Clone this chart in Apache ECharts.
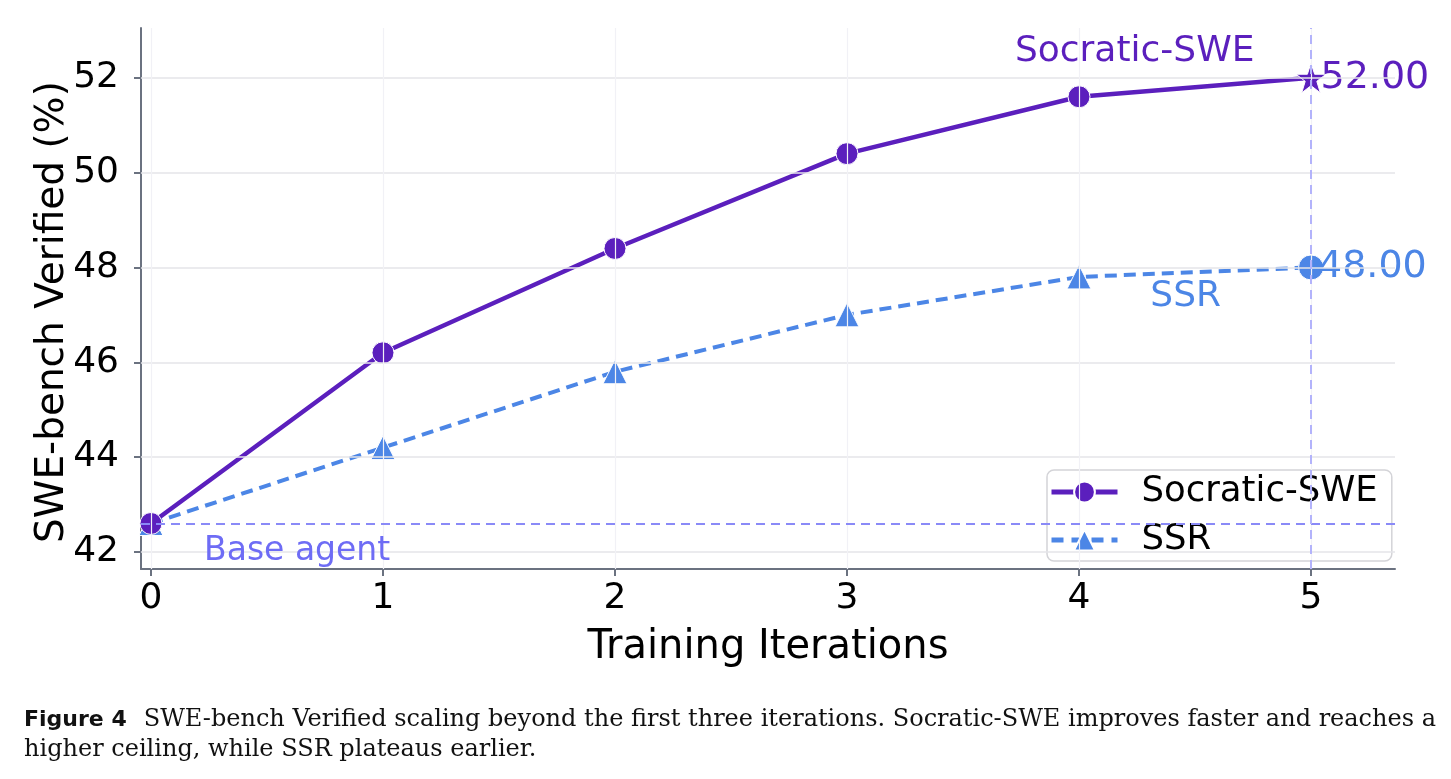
<!DOCTYPE html>
<html>
<head>
<meta charset="utf-8">
<script src="https://cdn.jsdelivr.net/npm/echarts@6/dist/echarts.min.js"></script>
<style>
html, body { margin: 0; padding: 0; background: #fff; }
#main { width: 1451px; height: 779px; }
</style>
</head>
<body>
<div id="main"></div>
<script>
// data
var iterations = [0, 1, 2, 3, 4, 5];
var socraticSWE = [42.6, 46.2, 48.4, 50.4, 51.6, 52.0];
var ssr = [42.6, 44.2, 45.8, 47.0, 47.8, 48.0];
var baseAgent = 42.6;
var xTicks = [0, 1, 2, 3, 4, 5];
var yTicks = [42, 44, 46, 48, 50, 52];

var cSoc = '#5b1fbd';
var cSsr = '#4c86e6';
var cBase = '#8a8af7';
var font = 'DejaVu Sans';
var starPath = 'path://M50,0 L61.8,35.1 L98.9,35.1 L68.9,56.8 L80.3,91.9 L50,70.2 L19.7,91.9 L31.1,56.8 L1.1,35.1 L38.2,35.1 Z';

function pairs(xs, ys) {
    return xs.map(function (x, i) { return [x, ys[i]]; });
}

function endLabel(color) {
    return {
        show: true, position: 'right', distance: -6,
        formatter: function (p) { return p.value[1].toFixed(2); },
        color: color, fontSize: 38, fontFamily: font
    };
}

var socData = pairs(iterations, socraticSWE);
var ssrData = pairs(iterations, ssr);
var last = iterations.length - 1;

// last point: star for Socratic-SWE, circle for SSR, with value label
socData[last] = {
    value: socData[last],
    symbol: starPath,
    symbolSize: 30,
    z2: 10,
    itemStyle: { color: cSoc, borderColor: '#fff', borderWidth: 1 },
    label: endLabel(cSoc)
};
ssrData[last] = {
    value: ssrData[last],
    symbol: 'circle',
    symbolSize: 25,
    label: endLabel(cSsr)
};

var gridLines = [];
yTicks.forEach(function (v) {
    gridLines.push({ yAxis: v, lineStyle: { color: '#e4e4e8', width: 1.6, type: 'solid' } });
});
xTicks.forEach(function (v) {
    gridLines.push({ xAxis: v, lineStyle: { color: '#f1f1f6', width: 1.2, type: 'solid' } });
});

var myChart = echarts.init(document.getElementById('main'), null, { renderer: 'canvas' });

var option = {
    backgroundColor: '#fff',
    animation: false,
    textStyle: { fontFamily: font },
    grid: { left: 141, right: 56, top: 28, bottom: 210 },
    xAxis: {
        type: 'value',
        min: -0.043,
        max: 5.362,
        name: 'Training Iterations',
        nameLocation: 'middle',
        nameGap: 59,
        nameTextStyle: { fontSize: 40, color: '#000', fontFamily: font },
        axisLine: { show: true, onZero: false, lineStyle: { color: '#6b7280', width: 2 } },
        axisTick: { show: true, customValues: xTicks, length: 7, lineStyle: { color: '#6b7280', width: 2 } },
        axisLabel: { customValues: xTicks, fontSize: 36, color: '#000', margin: 12, fontFamily: font },
        splitLine: { show: false }
    },
    yAxis: {
        type: 'value',
        min: 41.64,
        max: 53.05,
        axisLine: { show: true, onZero: false, lineStyle: { color: '#6b7280', width: 2 } },
        axisTick: { show: true, customValues: yTicks, length: 7, lineStyle: { color: '#6b7280', width: 2 } },
        axisLabel: { customValues: yTicks, fontSize: 36, color: '#000', margin: 22, fontFamily: font },
        splitLine: { show: false }
    },
    legend: {
        orient: 'vertical',
        left: 1047,
        top: 470,
        data: [
            { name: 'Socratic-SWE', itemStyle: { color: cSoc }, lineStyle: { color: cSoc, width: 5 } },
            { name: 'SSR', itemStyle: { color: cSsr }, lineStyle: { color: cSsr, width: 5, type: [12, 8] } }
        ],
        itemWidth: 66,
        itemHeight: 26,
        itemGap: 12,
        padding: [4, 14, 3, 2],
        borderColor: '#d4d4d8',
        borderWidth: 1.5,
        borderRadius: 7,
        backgroundColor: 'rgba(255,255,255,0.85)',
        textStyle: { fontSize: 35.5, color: '#000', fontFamily: font, padding: [0, 0, 0, 19] }
    },
    series: [
        {
            name: 'grid',
            type: 'line',
            data: [],
            z: 0,
            silent: true,
            markLine: {
                silent: true,
                symbol: 'none',
                label: { show: false },
                data: gridLines
            }
        },
        {
            name: 'refs',
            type: 'line',
            data: [],
            z: 1,
            silent: true,
            markLine: {
                silent: true,
                symbol: 'none',
                label: { show: false },
                data: [
                    { yAxis: baseAgent, lineStyle: { color: cBase, width: 2, type: [9, 6] } },
                    { xAxis: iterations[last], lineStyle: { color: '#b3b3fb', width: 2, type: [9, 6] } }
                ]
            },
            markPoint: {
                silent: true,
                symbol: 'rect',
                symbolSize: 1,
                itemStyle: { color: 'rgba(0,0,0,0)' },
                data: [
                    { coord: [0.63, 42.02], label: { show: true, formatter: 'Base agent', color: '#6e6cf5', fontSize: 33, fontFamily: font, position: 'inside' } },
                    { coord: [4.24, 52.55], label: { show: true, formatter: 'Socratic-SWE', color: cSoc, fontSize: 36, fontFamily: font, position: 'inside' } },
                    { coord: [4.46, 47.38], label: { show: true, formatter: 'SSR', color: cSsr, fontSize: 36, fontFamily: font, position: 'inside' } }
                ]
            }
        },
        {
            name: 'SSR',
            type: 'line',
            data: ssrData,
            z: 3,
            color: cSsr,
            symbol: 'triangle',
            symbolSize: 24,
            lineStyle: { color: cSsr, width: 4, type: [12, 7] },
            itemStyle: { color: cSsr, borderColor: '#fff', borderWidth: 1 }
        },
        {
            name: 'Socratic-SWE',
            type: 'line',
            data: socData,
            z: 4,
            color: cSoc,
            symbol: 'circle',
            symbolSize: 22,
            lineStyle: { color: cSoc, width: 4.5 },
            itemStyle: { color: cSoc, borderColor: '#fff', borderWidth: 1 }
        }
    ],
    graphic: [
        {
            type: 'text',
            x: 53,
            y: 312,
            rotation: Math.PI / 2,
            style: {
                text: 'SWE-bench Verified (%)',
                fontFamily: font,
                fontSize: 39,
                fill: '#000',
                align: 'center',
                verticalAlign: 'middle'
            }
        },
        {
            type: 'text',
            left: 24,
            top: 705,
            style: {
                text: '{b|Figure 4}{t|SWE-bench Verified scaling beyond the first three iterations. Socratic-SWE improves faster and reaches a}\n{t|higher ceiling, while SSR plateaus earlier.}',
                lineHeight: 30,
                rich: {
                    b: { fontFamily: 'DejaVu Sans', fontWeight: 'bold', fontSize: 22, fill: '#111', padding: [0, 17, 0, 0] },
                    t: { fontFamily: 'DejaVu Serif', fontSize: 24, fill: '#111' }
                }
            }
        }
    ]
};

myChart.setOption(option);
</script>
</body>
</html>
